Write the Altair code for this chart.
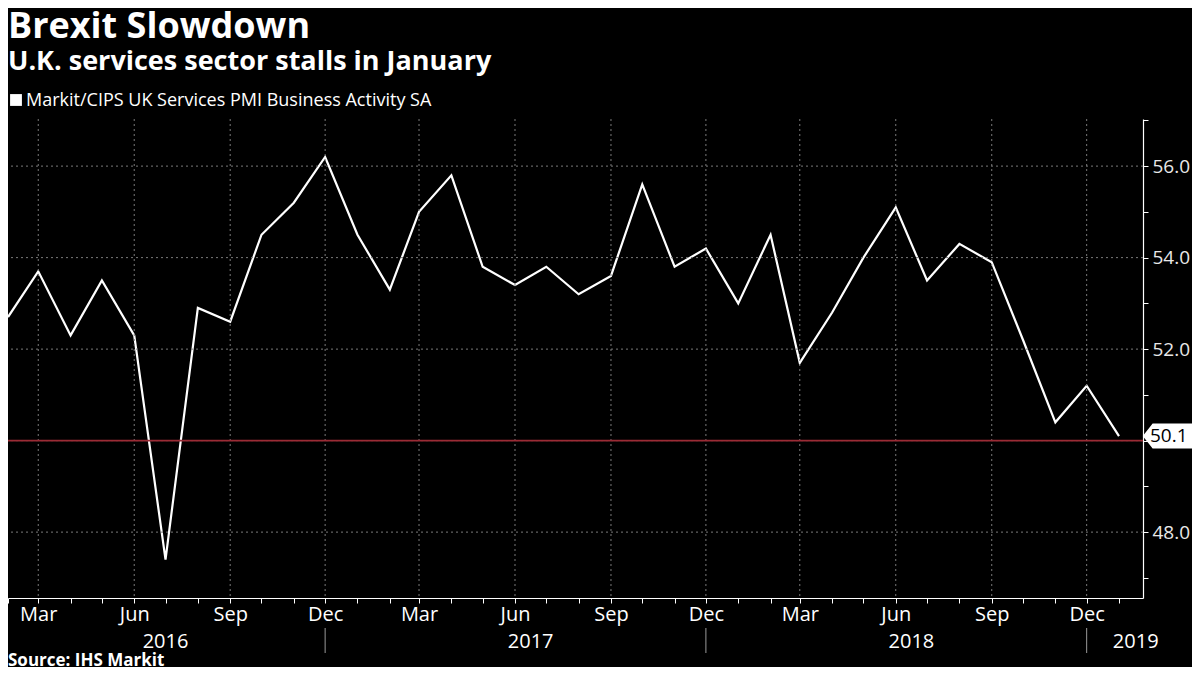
import altair as alt
import pandas as pd

# ---- data ----
months = pd.date_range("2016-02-01", "2019-01-01", freq="MS").strftime("%Y-%m-%d").tolist()
pmi = [52.7, 53.7, 52.3, 53.5, 52.3, 47.4, 52.9, 52.6, 54.5, 55.2, 56.2,
       54.5, 53.3, 55.0, 55.8, 53.8, 53.4, 53.8, 53.2, 53.6, 55.6, 53.8, 54.2,
       53.0, 54.5, 51.7, 52.8, 54.0, 55.1, 53.5, 54.3, 53.9, 52.2, 50.4, 51.2,
       50.1]
x_grid = ["2016-03-01", "2016-06-01", "2016-09-01", "2016-12-01",
          "2017-03-01", "2017-06-01", "2017-09-01", "2017-12-01",
          "2018-03-01", "2018-06-01", "2018-09-01", "2018-12-01"]
year_seps = ["2016-12-01", "2017-12-01", "2018-12-01"]
year_labels = ["2016", "2017", "2018", "2019"]
year_label_dates = ["2016-07-01", "2017-06-16", "2018-06-16", "2019-01-17"]
y_ticks = [47, 48, 49, 50, 51, 52, 53, 54, 55, 56, 57]
y_grid = [48, 50, 52, 54, 56]
threshold = 50
title = "Brexit Slowdown"
subtitle = "U.K. services sector stalls in January"
series_name = "Markit/CIPS UK Services PMI Business Activity SA"
source = "Source: IHS Markit"

W, H = 1135, 479
FONT = "Open Sans"

df = pd.DataFrame({"date": months, "value": pmi})
last = df.tail(1).copy()
last["label"] = last["value"].map(lambda v: f"{v:.1f}")

xscale = alt.Scale(type="utc", nice=False,
                   domain=[alt.DateTime(year=2016, month=2, date=1, utc=True),
                           alt.DateTime(year=2019, month=1, date=24, utc=True)])
yscale = alt.Scale(domain=[46.56, 57.03], nice=False, zero=False)

x_axis = alt.Axis(
    title=None, orient="bottom", grid=False,
    tickCount=alt.TimeIntervalStep(interval="month", step=1),
    labelExpr="indexof([2,5,8,11], utcmonth(datum.value)) >= 0 ? utcFormat(datum.value, '%b') : ''",
    labelFontSize=20, labelColor="#ffffff", labelPadding=1, labelFont=FONT,
    labelFlush=False, labelOverlap=False,
    domainColor="#ffffff", domainWidth=1.2, tickColor="#ffffff", tickSize=5, tickWidth=1,
)
y_axis = alt.Axis(
    title=None, orient="right", grid=False, values=y_ticks,
    labelExpr="(datum.value % 2 == 0 && datum.value != 50) ? format(datum.value, '.1f') : ''",
    labelFontSize=19, labelColor="#e8e8e8", labelPadding=4, labelFont=FONT,
    domainColor="#ffffff", domainWidth=1.2, tickColor="#ffffff", tickSize=5, tickWidth=1,
)

line = alt.Chart(df).mark_line(color="#ffffff", strokeWidth=2.2).encode(
    x=alt.X("date:T", scale=xscale, axis=x_axis),
    y=alt.Y("value:Q", scale=yscale, axis=y_axis),
)

vgrid = alt.Chart(pd.DataFrame({"date": x_grid})).mark_rule(
    color="#7a7a7a", strokeDash=[2, 3], strokeWidth=1
).encode(x=alt.X("date:T", scale=xscale))

hgrid = alt.Chart(pd.DataFrame({"value": y_grid})).mark_rule(
    color="#7a7a7a", strokeDash=[2, 3], strokeWidth=1
).encode(y=alt.Y("value:Q", scale=yscale))

redline = alt.Chart(pd.DataFrame({"value": [threshold]})).mark_rule(
    color="#9b2b35", strokeWidth=1.6
).encode(y=alt.Y("value:Q", scale=yscale))

seps = alt.Chart(pd.DataFrame({"date": year_seps})).mark_rule(
    color="#9a9a9a", strokeWidth=1
).encode(
    x=alt.X("date:T", scale=xscale),
    y=alt.value(H + 30), y2=alt.value(H + 55),
)

years = alt.Chart(pd.DataFrame({"date": year_label_dates, "year": year_labels})).mark_text(
    color="#ffffff", fontSize=20, font=FONT, align="center", baseline="alphabetic"
).encode(
    x=alt.X("date:T", scale=xscale),
    y=alt.value(H + 50),
    text="year:N",
)

flag = alt.Chart(last).mark_point(
    shape="M -1 0 L -0.62 -0.48 L 1 -0.48 L 1 0.48 L -0.62 0.48 Z",
    filled=True, fill="#ffffff", stroke="#ffffff", opacity=1, size=2304,
).encode(x=alt.value(W + 25), y=alt.Y("value:Q", scale=yscale))

flag_text = alt.Chart(last).mark_text(
    color="#000000", fontSize=19, font=FONT, align="left", baseline="middle"
).encode(x=alt.value(W + 7), y=alt.Y("value:Q", scale=yscale), text="label:N")


def label(txt, x, y, size, bold=False, color="#ffffff"):
    return alt.Chart(pd.DataFrame({"t": [txt]})).mark_text(
        color=color, fontSize=size, font=FONT, fontWeight="bold" if bold else "normal",
        align="left", baseline="alphabetic"
    ).encode(x=alt.value(x), y=alt.value(y), text="t:N")


t1 = label(title, 0, -81, 36, bold=True)
t2 = label(subtitle, 0, -49, 27, bold=True)
leg_sq = alt.Chart(pd.DataFrame({"t": [series_name]})).mark_square(
    color="#ffffff", size=140, filled=True, opacity=1
).encode(x=alt.value(8), y=alt.value(-19))
leg_txt = label(series_name, 18, -13, 18)
src = label(source, 0, 547, 17, bold=True)

chart = alt.layer(
    line, vgrid, hgrid, redline, seps, years, flag, flag_text,
    t1, t2, leg_sq, leg_txt, src
).properties(
    width=W, height=H,
    autosize=alt.AutoSizeParams(type="none"),
    padding={"left": 0, "top": 111, "right": 49, "bottom": 69},
    background="#000000",
).configure_view(stroke=None)

chart.save("out.html", embed_options={"renderer": "svg", "actions": False})
